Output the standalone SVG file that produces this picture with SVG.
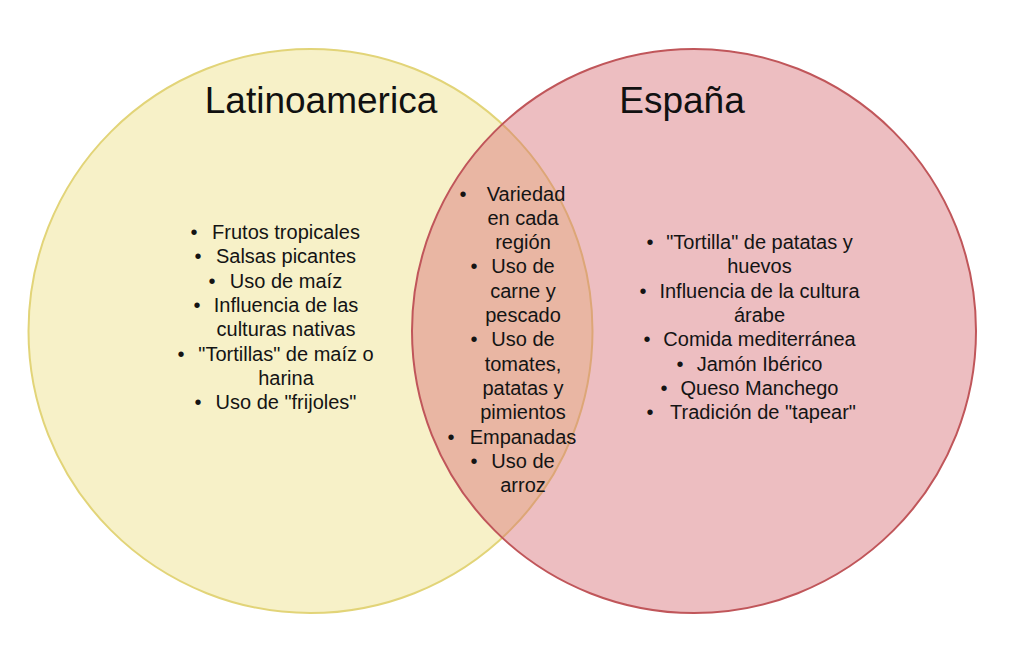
<svg xmlns="http://www.w3.org/2000/svg" width="1024" height="656" viewBox="0 0 1024 656">
<style>
.t{font-family:"Liberation Sans",Arial,sans-serif;font-size:20px;fill:#141414;text-anchor:middle}
.h{font-family:"Liberation Sans",Arial,sans-serif;font-size:37px;fill:#111;text-anchor:middle}
</style>
<rect width="1024" height="656" fill="#ffffff"/>
<g id="latinoamerica">
<circle cx="310.5" cy="331" r="282" fill="#f7f1c8" stroke="#e2d478" stroke-width="2"/>
</g>
<g id="espana">
<circle cx="694" cy="331" r="282" fill="#d76e76" fill-opacity="0.45" stroke="#c0565a" stroke-width="2"/>
</g>
<g id="latinoamerica-text">
<text class="h" x="321" y="113">Latinoamerica</text>
<text class="t" x="194" y="239">•</text><text class="t" x="286" y="239">Frutos tropicales</text>
<text class="t" x="198" y="263.3">•</text><text class="t" x="286" y="263.3">Salsas picantes</text>
<text class="t" x="212" y="287.6">•</text><text class="t" x="286" y="287.6">Uso de maíz</text>
<text class="t" x="197" y="312">•</text><text class="t" x="286" y="312">Influencia de las</text>
<text class="t" x="286" y="336.3">culturas nativas</text>
<text class="t" x="181" y="360.6">•</text><text class="t" x="286" y="360.6">"Tortillas" de maíz o</text>
<text class="t" x="286" y="384.9">harina</text>
<text class="t" x="198" y="409.2">•</text><text class="t" x="286" y="409.2">Uso de "frijoles"</text>
</g>
<g id="comun-text">
<text class="t" x="463" y="200.5">•</text><text class="t" x="526" y="200.5">Variedad</text>
<text class="t" x="523" y="224.8">en cada</text>
<text class="t" x="523" y="249.1">región</text>
<text class="t" x="474" y="273.4">•</text><text class="t" x="523" y="273.4">Uso de</text>
<text class="t" x="523" y="297.7">carne y</text>
<text class="t" x="523" y="322">pescado</text>
<text class="t" x="474" y="346.3">•</text><text class="t" x="523" y="346.3">Uso de</text>
<text class="t" x="523" y="370.6">tomates,</text>
<text class="t" x="523" y="394.9">patatas y</text>
<text class="t" x="523" y="419.2">pimientos</text>
<text class="t" x="451" y="443.5">•</text><text class="t" x="523" y="443.5">Empanadas</text>
<text class="t" x="474" y="467.8">•</text><text class="t" x="523" y="467.8">Uso de</text>
<text class="t" x="523" y="492.1">arroz</text>
</g>
<g id="espana-text">
<text class="h" x="682" y="113">España</text>
<text class="t" x="650" y="249">•</text><text class="t" x="759.5" y="249">"Tortilla" de patatas y</text>
<text class="t" x="759.5" y="273.3">huevos</text>
<text class="t" x="643" y="297.6">•</text><text class="t" x="759.5" y="297.6">Influencia de la cultura</text>
<text class="t" x="759.5" y="321.9">árabe</text>
<text class="t" x="647" y="346.2">•</text><text class="t" x="759.5" y="346.2">Comida mediterránea</text>
<text class="t" x="680" y="370.5">•</text><text class="t" x="759.5" y="370.5">Jamón Ibérico</text>
<text class="t" x="664" y="394.8">•</text><text class="t" x="759.5" y="394.8">Queso Manchego</text>
<text class="t" x="650" y="419.1">•</text><text class="t" x="763" y="419.1">Tradición de "tapear"</text>
</g>
</svg>
